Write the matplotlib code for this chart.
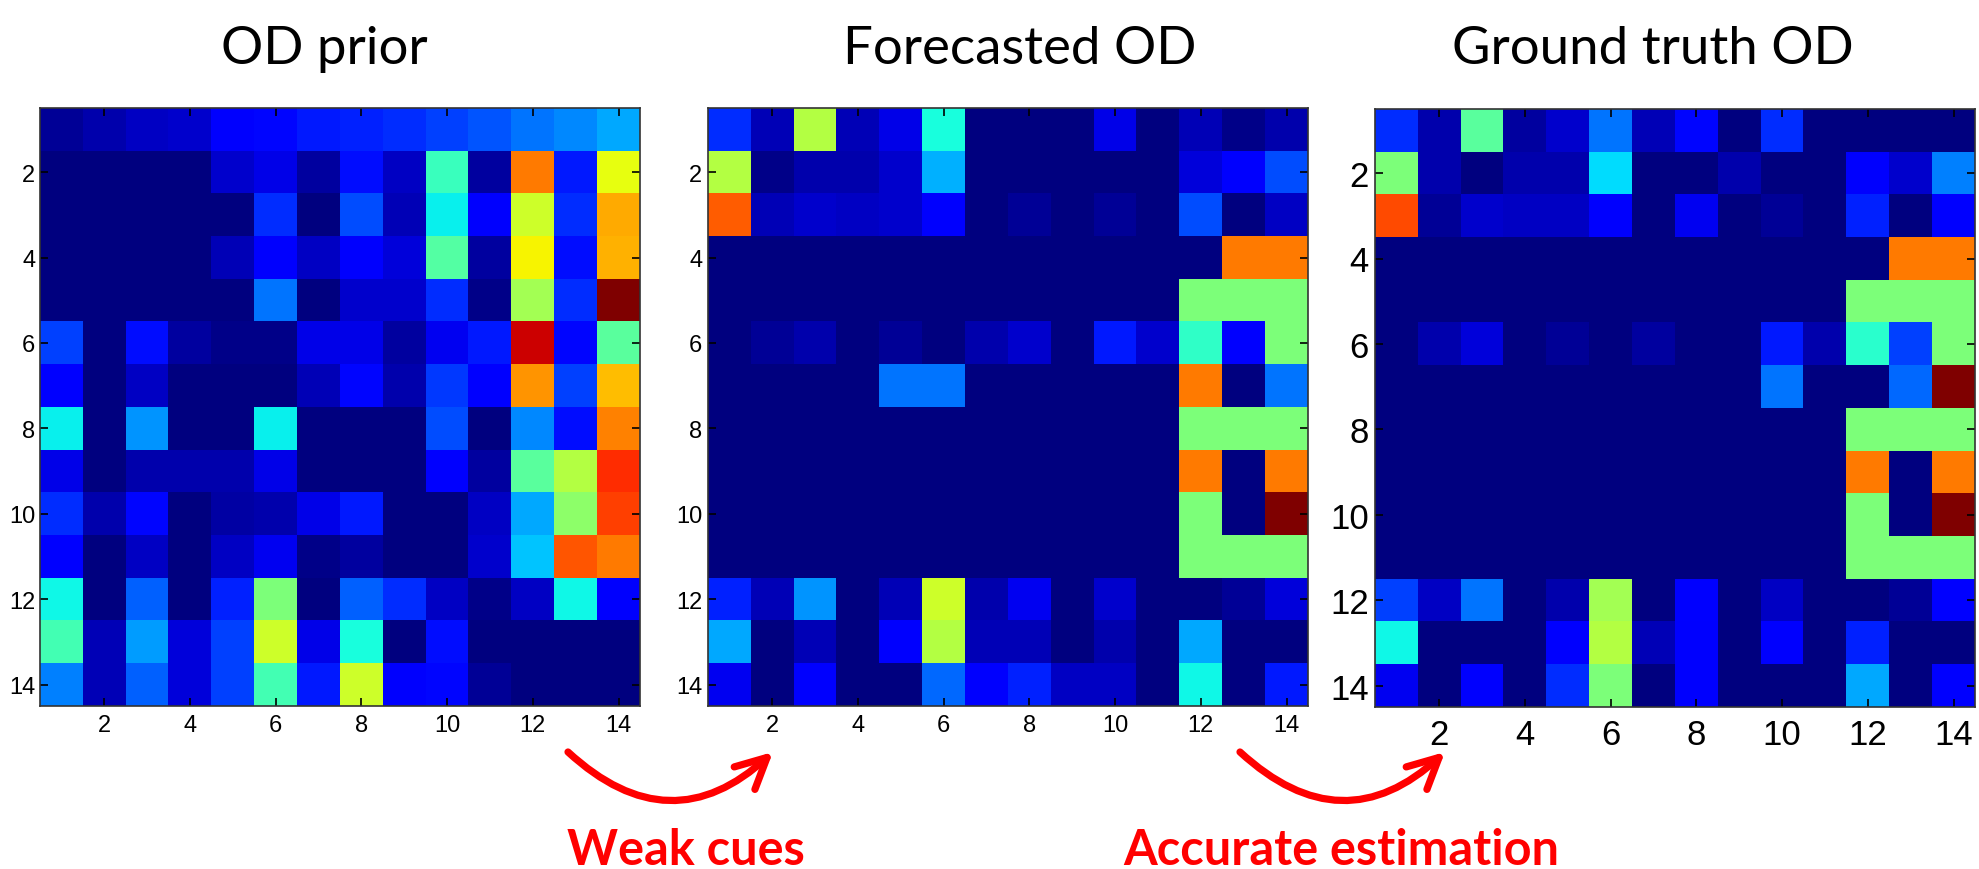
import numpy as np
import matplotlib
matplotlib.use("Agg")
import matplotlib.pyplot as plt
from matplotlib.patches import FancyArrowPatch

titles = ["OD prior", "Forecasted OD", "Ground truth OD"]
tick_positions = [2, 4, 6, 8, 10, 12, 14]
tick_labels = ["2", "4", "6", "8", "10", "12", "14"]
annotations = ["Weak cues", "Accurate estimation"]

od_prior = [
    [0.02, 0.04, 0.06, 0.07, 0.11, 0.13, 0.15, 0.16, 0.17, 0.19, 0.21, 0.24, 0.26, 0.29],
    [0.00, 0.00, 0.00, 0.00, 0.07, 0.09, 0.03, 0.14, 0.06, 0.42, 0.03, 0.78, 0.15, 0.63],
    [0.00, 0.00, 0.00, 0.00, 0.00, 0.17, 0.00, 0.20, 0.05, 0.36, 0.11, 0.60, 0.17, 0.73],
    [0.00, 0.00, 0.00, 0.00, 0.05, 0.11, 0.06, 0.11, 0.08, 0.45, 0.03, 0.65, 0.14, 0.72],
    [0.00, 0.00, 0.00, 0.00, 0.00, 0.24, 0.00, 0.07, 0.07, 0.17, 0.01, 0.55, 0.17, 1.00],
    [0.19, 0.00, 0.14, 0.03, 0.01, 0.01, 0.09, 0.09, 0.03, 0.10, 0.15, 0.93, 0.13, 0.46],
    [0.12, 0.00, 0.06, 0.00, 0.00, 0.00, 0.05, 0.13, 0.04, 0.18, 0.12, 0.75, 0.19, 0.71],
    [0.36, 0.00, 0.27, 0.00, 0.00, 0.36, 0.00, 0.00, 0.00, 0.20, 0.00, 0.26, 0.14, 0.77],
    [0.09, 0.00, 0.04, 0.04, 0.04, 0.09, 0.00, 0.00, 0.00, 0.12, 0.03, 0.46, 0.57, 0.86],
    [0.17, 0.04, 0.13, 0.00, 0.035, 0.04, 0.09, 0.15, 0.00, 0.00, 0.06, 0.29, 0.52, 0.84],
    [0.12, 0.00, 0.06, 0.00, 0.06, 0.10, 0.01, 0.03, 0.00, 0.00, 0.07, 0.32, 0.82, 0.78],
    [0.37, 0.00, 0.22, 0.00, 0.16, 0.50, 0.00, 0.22, 0.17, 0.06, 0.01, 0.06, 0.37, 0.11],
    [0.43, 0.05, 0.28, 0.08, 0.19, 0.60, 0.09, 0.38, 0.00, 0.14, 0.00, 0.00, 0.00, 0.00],
    [0.25, 0.05, 0.22, 0.08, 0.19, 0.43, 0.15, 0.60, 0.11, 0.13, 0.02, 0.00, 0.00, 0.00],
]

od_forecast = [
    [0.17, 0.05, 0.57, 0.05, 0.09, 0.38, 0.00, 0.00, 0.00, 0.09, 0.00, 0.05, 0.01, 0.04],
    [0.57, 0.01, 0.04, 0.04, 0.07, 0.30, 0.00, 0.00, 0.00, 0.00, 0.00, 0.08, 0.11, 0.20],
    [0.81, 0.05, 0.07, 0.06, 0.07, 0.11, 0.00, 0.02, 0.00, 0.02, 0.00, 0.20, 0.00, 0.06],
    [0.00, 0.00, 0.00, 0.00, 0.00, 0.00, 0.00, 0.00, 0.00, 0.00, 0.00, 0.00, 0.78, 0.78],
    [0.00, 0.00, 0.00, 0.00, 0.00, 0.00, 0.00, 0.00, 0.00, 0.00, 0.00, 0.50, 0.50, 0.50],
    [0.00, 0.02, 0.04, 0.00, 0.02, 0.00, 0.04, 0.07, 0.00, 0.15, 0.07, 0.41, 0.12, 0.50],
    [0.00, 0.00, 0.00, 0.00, 0.24, 0.24, 0.00, 0.00, 0.00, 0.00, 0.00, 0.78, 0.00, 0.24],
    [0.00, 0.00, 0.00, 0.00, 0.00, 0.00, 0.00, 0.00, 0.00, 0.00, 0.00, 0.50, 0.50, 0.50],
    [0.00, 0.00, 0.00, 0.00, 0.00, 0.00, 0.00, 0.00, 0.00, 0.00, 0.00, 0.78, 0.00, 0.78],
    [0.00, 0.00, 0.00, 0.00, 0.00, 0.00, 0.00, 0.00, 0.00, 0.00, 0.00, 0.50, 0.00, 1.00],
    [0.00, 0.00, 0.00, 0.00, 0.00, 0.00, 0.00, 0.00, 0.00, 0.00, 0.00, 0.50, 0.50, 0.50],
    [0.16, 0.05, 0.27, 0.00, 0.05, 0.60, 0.04, 0.10, 0.00, 0.07, 0.00, 0.00, 0.02, 0.08],
    [0.29, 0.00, 0.05, 0.00, 0.11, 0.57, 0.05, 0.05, 0.00, 0.04, 0.00, 0.29, 0.00, 0.00],
    [0.10, 0.00, 0.11, 0.00, 0.00, 0.23, 0.11, 0.16, 0.06, 0.06, 0.00, 0.37, 0.00, 0.15],
]

od_truth = [
    [0.17, 0.04, 0.46, 0.03, 0.07, 0.24, 0.05, 0.13, 0.00, 0.17, 0.00, 0.00, 0.00, 0.00],
    [0.50, 0.04, 0.00, 0.04, 0.04, 0.34, 0.00, 0.00, 0.04, 0.00, 0.00, 0.11, 0.07, 0.25],
    [0.83, 0.02, 0.07, 0.06, 0.06, 0.11, 0.00, 0.10, 0.00, 0.02, 0.00, 0.16, 0.00, 0.12],
    [0.00, 0.00, 0.00, 0.00, 0.00, 0.00, 0.00, 0.00, 0.00, 0.00, 0.00, 0.00, 0.78, 0.78],
    [0.00, 0.00, 0.00, 0.00, 0.00, 0.00, 0.00, 0.00, 0.00, 0.00, 0.00, 0.50, 0.50, 0.50],
    [0.00, 0.04, 0.08, 0.00, 0.02, 0.00, 0.03, 0.00, 0.00, 0.15, 0.04, 0.40, 0.19, 0.50],
    [0.00, 0.00, 0.00, 0.00, 0.00, 0.00, 0.00, 0.00, 0.00, 0.24, 0.00, 0.00, 0.23, 1.00],
    [0.00, 0.00, 0.00, 0.00, 0.00, 0.00, 0.00, 0.00, 0.00, 0.00, 0.00, 0.50, 0.50, 0.50],
    [0.00, 0.00, 0.00, 0.00, 0.00, 0.00, 0.00, 0.00, 0.00, 0.00, 0.00, 0.78, 0.00, 0.78],
    [0.00, 0.00, 0.00, 0.00, 0.00, 0.00, 0.00, 0.00, 0.00, 0.00, 0.00, 0.50, 0.00, 1.00],
    [0.00, 0.00, 0.00, 0.00, 0.00, 0.00, 0.00, 0.00, 0.00, 0.00, 0.00, 0.50, 0.50, 0.50],
    [0.19, 0.06, 0.24, 0.00, 0.04, 0.55, 0.00, 0.12, 0.00, 0.06, 0.00, 0.00, 0.02, 0.12],
    [0.37, 0.00, 0.00, 0.00, 0.11, 0.57, 0.05, 0.11, 0.00, 0.11, 0.00, 0.16, 0.00, 0.00],
    [0.10, 0.00, 0.11, 0.00, 0.17, 0.50, 0.00, 0.11, 0.00, 0.00, 0.00, 0.29, 0.00, 0.12],
]

W, H = 1979, 870
DPI = 100
fig = plt.figure(figsize=(W / DPI, H / DPI), dpi=DPI)
fig.patch.set_facecolor("white")

# axes boxes in pixels: left, top, width, height
boxes = [(40, 109, 600, 598), (708, 109, 600, 598), (1375, 110, 600, 598)]
tick_sizes = [17, 17, 25]
xpads = [5.5, 5.5, 8.0]
ypads = [3.5, 4.0, 4.5]
title_x = [324, 1020, 1653]
datasets = [od_prior, od_forecast, od_truth]

for i, (data, box) in enumerate(zip(datasets, boxes)):
    l, t, w, h = box
    ax = fig.add_axes([l / W, (H - t - h) / H, w / W, h / H])
    ax.imshow(np.array(data), cmap="jet", vmin=0, vmax=1, interpolation="nearest",
              extent=(0.5, 14.5, 14.5, 0.5), aspect="auto")
    ax.set_xticks(tick_positions)
    ax.set_xticklabels(tick_labels)
    ax.set_yticks(tick_positions)
    ax.set_yticklabels(tick_labels)
    ax.tick_params(axis="both", direction="in", length=6, width=1.2, color="black",
                   top=True, right=True, labelsize=tick_sizes[i])
    ax.tick_params(axis="x", pad=xpads[i])
    ax.tick_params(axis="y", pad=ypads[i])
    for lab in ax.get_xticklabels() + ax.get_yticklabels():
        lab.set_fontfamily(["Liberation Sans", "DejaVu Sans"])
    for sp in ax.spines.values():
        sp.set_color("#333333")
        sp.set_linewidth(1.2)
    fig.text(title_x[i] / W, (H - 64) / H, titles[i], ha="center", va="baseline",
             fontsize=38, family=["Lato", "DejaVu Sans"], color="black")

# annotation texts
fig.text(567 / W, 5 / H, annotations[0], ha="left", va="baseline", fontsize=35,
         fontweight="bold", family=["Lato", "DejaVu Sans"], color="#ff0000")
fig.text(1123 / W, 5 / H, annotations[1], ha="left", va="baseline", fontsize=35,
         fontweight="bold", family=["Lato", "DejaVu Sans"], color="#ff0000")

# curved arrows (figure pixel coordinates)
for x0, x1 in [(568, 773), (1240, 1445)]:
    arr = FancyArrowPatch((x0, H - 753), (x1, H - 753), transform=None,
                          connectionstyle="arc3,rad=0.46",
                          arrowstyle="->,head_length=22,head_width=11",
                          linewidth=5.2, color="#ff0000", shrinkA=0, shrinkB=0,
                          mutation_scale=1, capstyle="round", joinstyle="round")
    fig.patches.append(arr)

fig.savefig("out.png", dpi=DPI, facecolor="white")
